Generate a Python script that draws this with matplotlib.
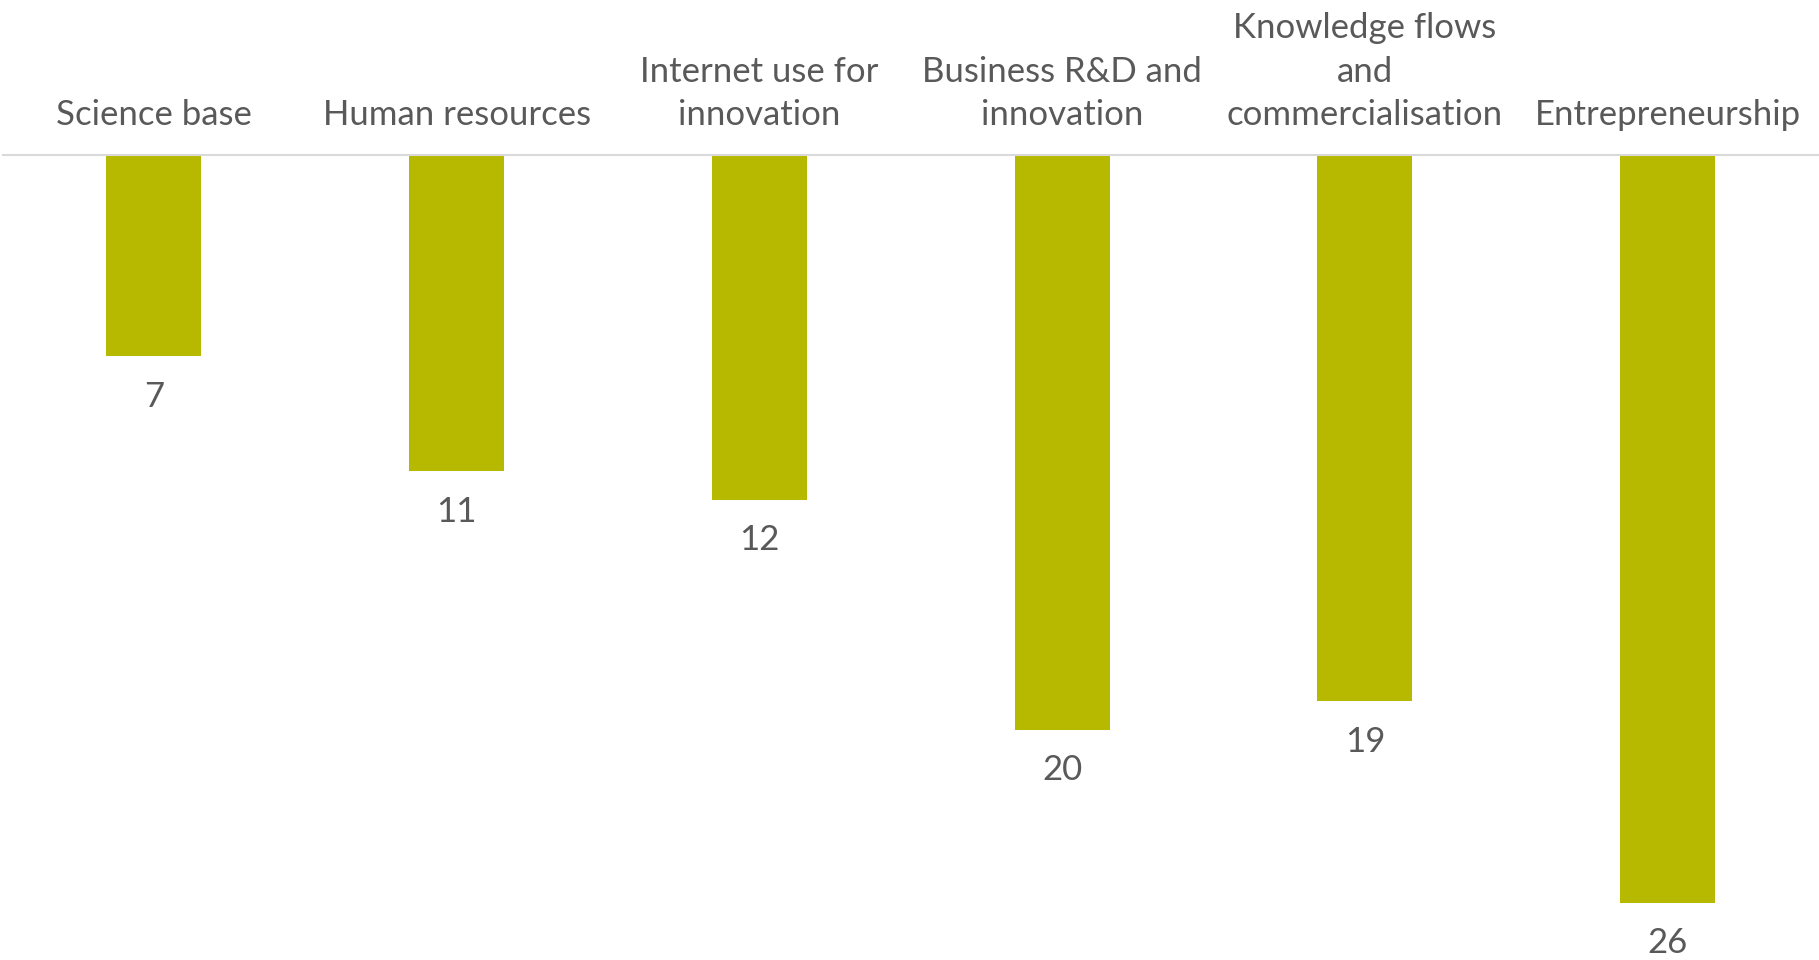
import numpy as np
import matplotlib.pyplot as plt

plt.rcParams['font.family'] = ['Lato', 'DejaVu Sans']

categories = ['Science base', 'Human resources', 'Internet use for\ninnovation',
              'Business R&D and\ninnovation', 'Knowledge flows\nand\ncommercialisation',
              'Entrepreneurship']
values = [7, 11, 12, 20, 19, 26]

bar_color = '#b6b900'
text_color = '#595959'

fig = plt.figure(figsize=(18.19, 9.6), dpi=100)
ax = fig.add_axes([0.0014, 0.0, 0.9986, 1 - 155 / 960])

x = np.arange(len(categories))
ax.bar(x, values, width=0.314, color=bar_color)
ax.set_xlim(-0.5, len(categories) - 0.5)
ax.set_ylim(28.0, 0)

for xi, v in zip(x, values):
    ax.annotate(str(v), (xi, v), xytext=(0, -29), textcoords='offset points',
                ha='center', va='center', fontsize=25, color=text_color)

ax.xaxis.tick_top()
ax.set_xticks(x)
ax.set_xticklabels(categories, fontsize=25, color=text_color, linespacing=1.45)
ax.tick_params(axis='x', length=0, pad=17)
ax.set_yticks([])
for side in ['left', 'right', 'bottom']:
    ax.spines[side].set_visible(False)
ax.spines['top'].set_color('#d9d9d9')
ax.spines['top'].set_linewidth(1.5)

fig.savefig('out.png', dpi=100)
